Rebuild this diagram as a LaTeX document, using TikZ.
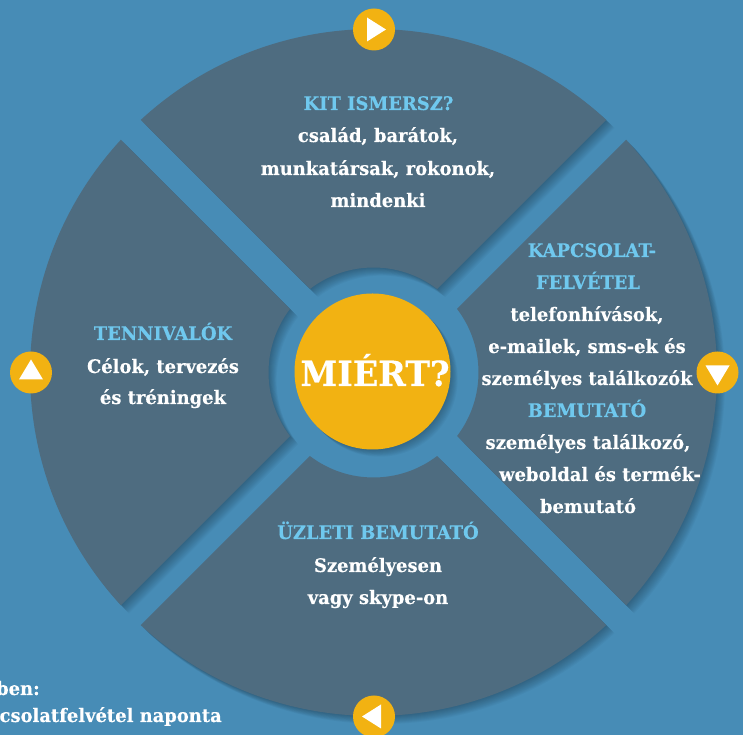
\documentclass[tikz,border=0pt]{standalone}
\usepackage{fontspec}
\setmainfont[FakeStretch=0.96,BoldFeatures={FakeStretch=0.96,FakeBold=0.25}]{DejaVu Serif}
\definecolor{bgblue}{HTML}{478CB6}
\definecolor{slate}{HTML}{4E6C80}
\definecolor{gold}{HTML}{F2B212}
\definecolor{sky}{HTML}{6FC8EE}
\newcommand{\sectorpath}[1]{(#1-42.66:343.5) arc[start angle=#1-42.66,end angle=#1+42.66,radius=343.5]
  -- (#1+37.26:105) arc[start angle=#1+37.26,end angle=#1-37.26,radius=105] -- cycle}
\tikzset{
  x=0.75pt,y=0.75pt,
  sector/.style={fill=slate},
  bullet/.style={circle,fill=gold,minimum size=31.5pt,inner sep=0pt},
  tri/.style={fill=white},
  head/.style={anchor=base,inner sep=0pt,text=sky,font=\fontsize{14}{16}\selectfont\bfseries},
  body/.style={anchor=base,inner sep=0pt,text=white,font=\fontsize{14}{16}\selectfont\bfseries},
}
\begin{document}
\begin{tikzpicture}
\useasboundingbox (0,0) rectangle (743,735);
\clip (0,0) rectangle (743,735);
\fill[bgblue] (0,0) rectangle (743,735);
\begin{scope}[shift={(373.5,362.5)}]
  % soft shadows of the four sectors
  \foreach \th in {90,0,-90,180}{
    \foreach \k in {1,...,9}{
      \fill[black,opacity=0.032,shift={(\k*0.9,-\k*0.9)}] \sectorpath{\th};
    }
  }
  \foreach \th in {90,0,-90,180}{
    \fill[sector] \sectorpath{\th};
  }
  \foreach \k in {1,...,8}{
    \fill[black,opacity=0.032] (\k*0.9-1,-\k*0.9+1) circle[radius=78];
  }
  \node[circle,fill=gold,minimum size=117pt,inner sep=0pt] (hub) at (-1,1) {};
\end{scope}
\node[anchor=base,inner sep=0pt,text=white,font=\fontsize{26}{28}\selectfont\bfseries] (miert) at (375,735-386) {MIÉRT?};

% bullets
\node[bullet] (bt) at (374,705.5) {};
\node[bullet] (br) at (717.5,362.5) {};
\node[bullet] (bb) at (374,18.5) {};
\node[bullet] (bl) at (31,362.5) {};
\fill[tri] ([shift={(-7,12)}]bt.center) -- ([shift={(12,0)}]bt.center) -- ([shift={(-7,-12)}]bt.center) -- cycle;
\fill[tri] ([shift={(-12,7)}]br.center) -- ([shift={(12,7)}]br.center) -- ([shift={(0,-13)}]br.center) -- cycle;
\fill[tri] ([shift={(7,12)}]bb.center) -- ([shift={(-12,0)}]bb.center) -- ([shift={(7,-12)}]bb.center) -- cycle;
\fill[tri] ([shift={(-12,-7)}]bl.center) -- ([shift={(12,-7)}]bl.center) -- ([shift={(0,13)}]bl.center) -- cycle;

% top
\node[head] (t1) at (378.5,735-110) {KIT ISMERSZ?};
\node[body] (t2) at (378,735-142) {család, barátok,};
\node[body] (t3) at (378,735-175) {munkatársak, rokonok,};
\node[body] (t4) at (378,735-207) {mindenki};
% left
\node[head] (l1) at (163,735-340) {TENNIVALÓK};
\node[body] (l2) at (163,735-373) {Célok, tervezés};
\node[body] (l3) at (163,735-404) {és tréningek};
% right
\node[head] (r1) at (592,735-257) {KAPCSOLAT-};
\node[head] (r2) at (588,735-289) {FELVÉTEL};
\node[body] (r3) at (587,735-321) {telefonhívások,};
\node[body] (r4) at (587,735-353) {e-mailek, sms-ek és};
\node[body] (r5) at (587,735-385) {személyes találkozók};
\node[head] (r6) at (587,735-417) {BEMUTATÓ};
\node[body] (r7) at (588,735-449) {személyes találkozó,};
\node[body] (r8) at (600,735-481) {weboldal és termék-};
\node[body] (r9) at (588,735-513) {bemutató};
% bottom
\node[head] (b1) at (378,735-539) {ÜZLETI BEMUTATÓ};
\node[body] (b2) at (378,735-572) {Személyesen};
\node[body] (b3) at (378,735-604) {vagy skype-on};
% cut-off note
\node[body,anchor=base east] (n1) at (40,735-695) {ben:};
\node[body,anchor=base east] (n2) at (222,735-722) {csolatfelvétel naponta};
\end{tikzpicture}
\end{document}
